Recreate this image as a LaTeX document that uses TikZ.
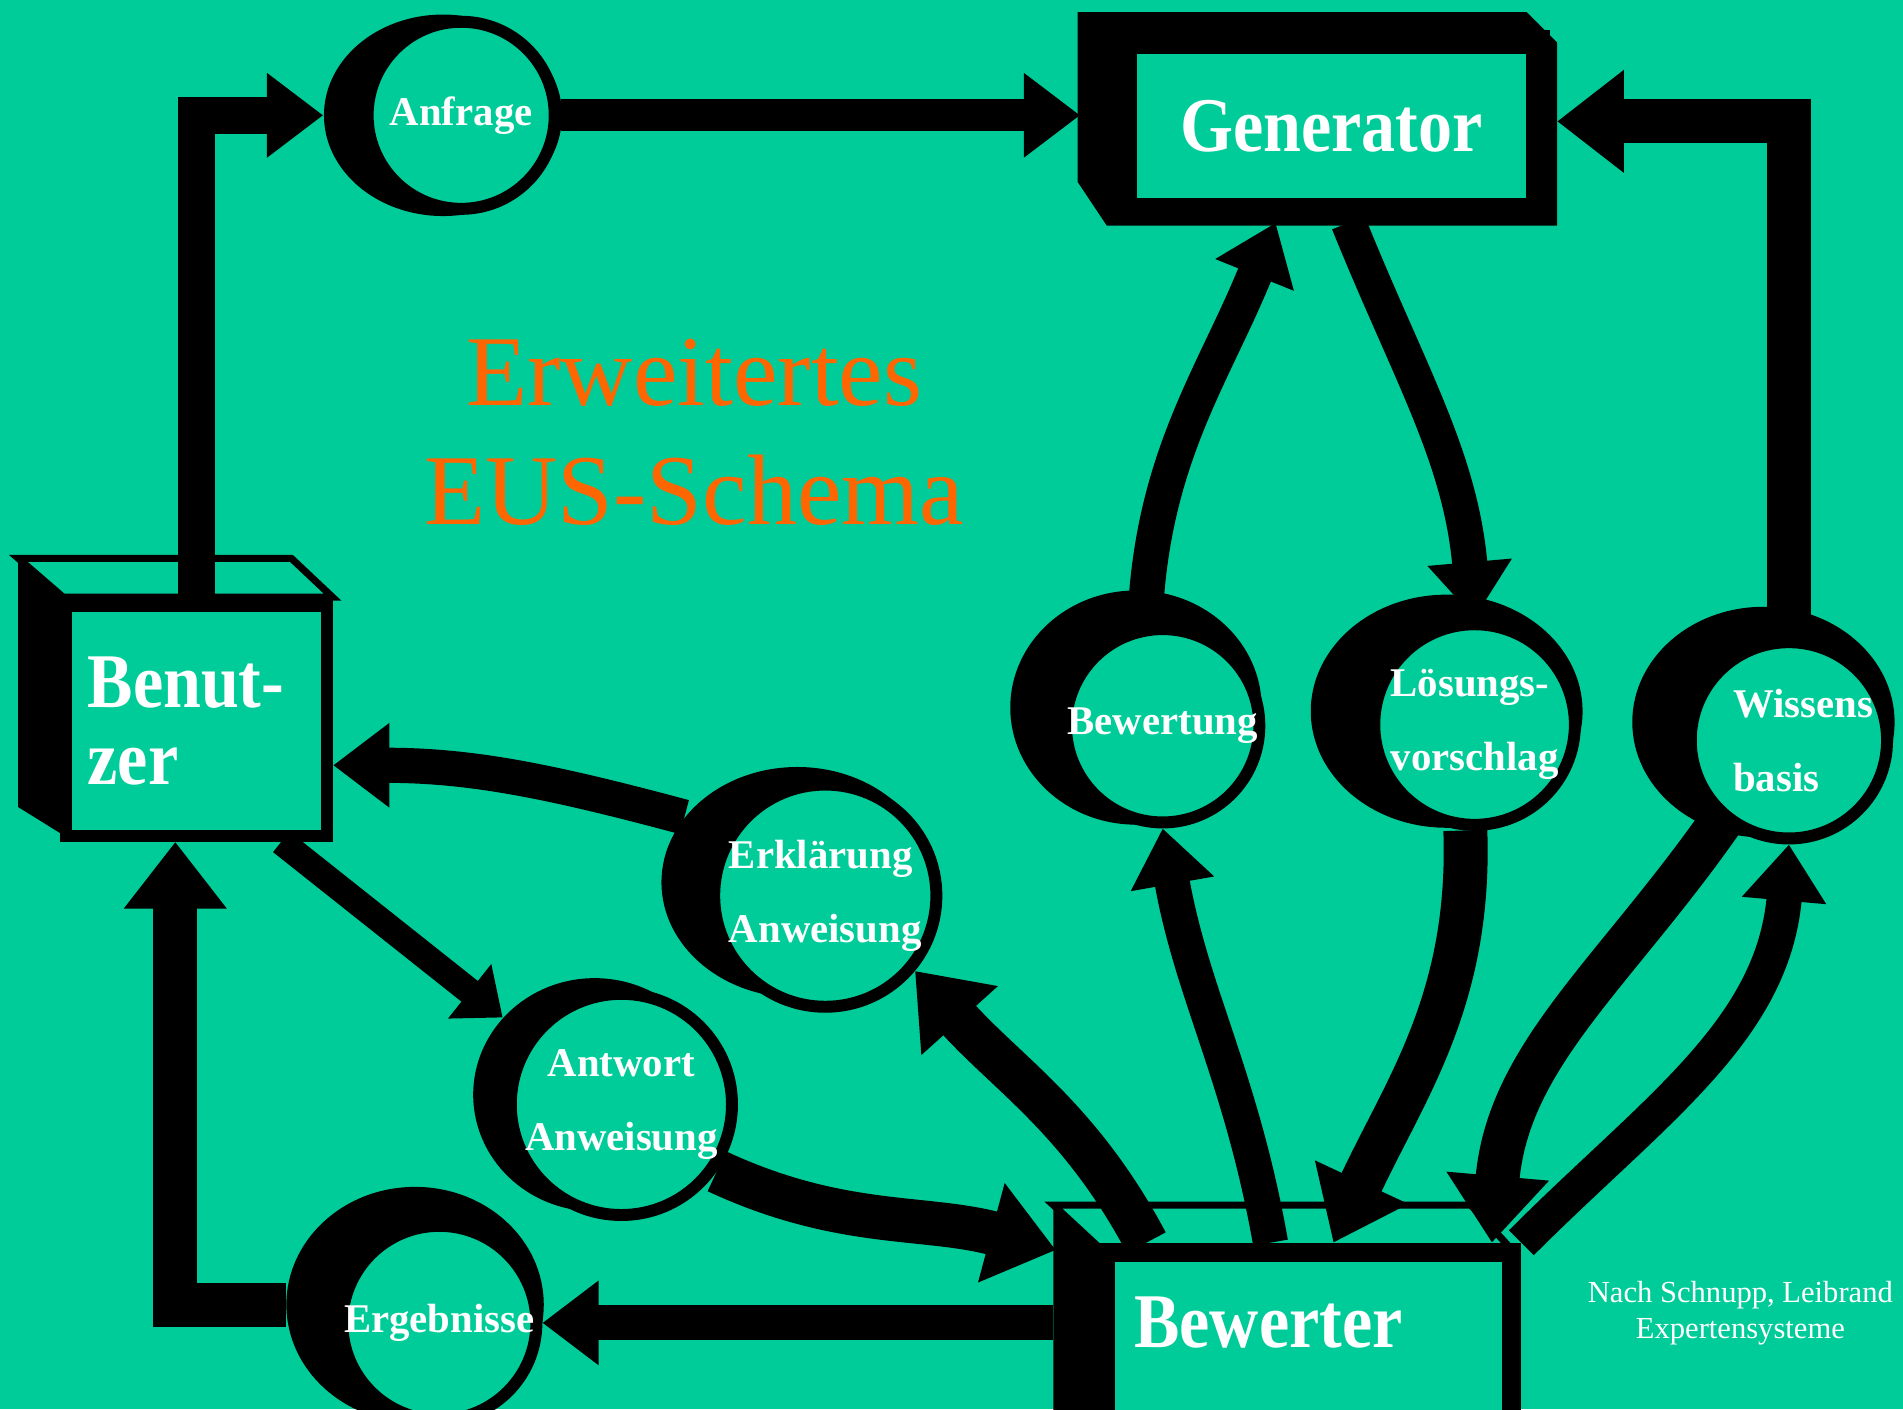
\documentclass[tikz,border=0pt]{standalone}
\usepackage{fontspec}
\setmainfont{Liberation Serif}
\newfontfamily\boxface[FakeStretch=0.88]{Liberation Serif}
\usetikzlibrary{arrows.meta,shapes.geometric}
\definecolor{eusgreen}{RGB}{0,204,153}
\definecolor{eusorange}{RGB}{255,102,0}

\begin{document}
\begin{tikzpicture}[x=0.012137cm, y=0.012137cm,
    bubble/.style={circle, draw=black, fill=eusgreen, line width=3.4pt, inner sep=0pt,
        text=white, align=left, font=\fontsize{11.6}{21}\selectfont\bfseries},
    shell/.style={ellipse, fill=black, inner sep=0pt},
    box/.style={rectangle, draw=black, fill=eusgreen, text=white,
        font=\boxface\fontsize{22}{22}\selectfont\bfseries},
    flow/.style={draw=black, line width=10pt, -{Triangle[length=16pt,width=23pt]}},
    heavy/.style={flow, line width=12.5pt, -{Triangle[length=19pt,width=28pt]}}]

    \useasboundingbox (0,0) rectangle (1568,-1161);
    \fill[eusgreen] (0,0) rectangle (1568,-1161);

    \node[text=eusorange, font=\fontsize{28.5}{33.8}\selectfont, align=center] (title) at (572,-356) {Erweitertes\\EUS-Schema};

    % boxes
    \fill (888,-10) -- (1258,-10) -- (1283,-35) -- (1283,-186) -- (912,-186) -- (888,-150) -- cycle;
    \node[box, line width=6.9pt, minimum width=117.4pt, minimum height=48pt] (generator) at (1097,-104) {Generator};

    \filldraw[fill=eusgreen, line width=2pt] (15,-460) -- (240,-460) -- (274,-492) -- (52,-492) -- cycle;
    \fill (15,-460) -- (52,-492) -- (52,-688) -- (15,-665) -- cycle;
    \node[box, line width=3.45pt, minimum width=74.2pt, minimum height=65.3pt,
        text width=62pt, inner xsep=6.1pt, align=left] (benutzer) at (162,-594) {Benut-\\zer};

    \filldraw[fill=eusgreen, line width=2pt] (868,-993) -- (1212,-993) -- (1246,-1030) -- (908,-1030) -- cycle;
    \fill (868,-993) -- (908,-1030) -- (908,-1170) -- (868,-1170) -- cycle;
    \node[box, line width=5.5pt, minimum width=115.7pt, minimum height=47.7pt,
        text width=99pt, inner xsep=8.35pt, align=left, text depth=8pt] (bewerter) at (1078,-1101) {Bewerter};

    \coordinate (generator-in) at (890,-95);
    \coordinate (generator-back) at (1283,-100);
    \coordinate (bewerter-in) at (870,-1030);
    \coordinate (bewerter-out) at (868,-1090);

    % bubbles
    \node[shell, minimum width=67.7pt, minimum height=57.3pt] (anfrage-s) at (365,-95) {};
    \node[bubble, minimum size=53.2pt] (anfrage) at (380,-95) {Anfrage};

    \node[shell, minimum width=71.5pt, minimum height=66.6pt] (bewertung-s) at (936,-583) {};
    \node[bubble, minimum size=53.2pt] (bewertung) at (958,-598) {Bewertung};

    \node[shell, minimum width=77.3pt, minimum height=66.3pt] (loesung-s) at (1192,-586) {};
    \node[bubble, minimum size=55.2pt] (loesung) at (1215,-597) {Lösungs-\\vorschlag};

    \node[shell, minimum width=74.6pt, minimum height=65.6pt] (wissens-s) at (1453,-595) {};
    \node[bubble, minimum size=53.2pt] (wissens) at (1474,-610) {\hspace*{8pt}Wissens\\\hspace*{8pt}basis};

    \node[shell, minimum width=77.3pt, minimum height=65.6pt] (erklaerung-s) at (657,-727) {};
    \node[bubble, minimum size=55.9pt] (erklaerung) at (680,-738) {Erklärung\\Anweisung};

    \node[shell, minimum width=69.1pt, minimum height=66.3pt] (antwort-s) at (490,-902) {};
    \node[bubble, minimum size=53.2pt, align=center] (antwort) at (512,-910) {Antwort\\Anweisung};

    \node[shell, minimum width=73.2pt, minimum height=67pt] (ergebnisse-s) at (342,-1075) {};
    \node[bubble, minimum size=55.2pt] (ergebnisse) at (362,-1090) {Ergebnisse};

    % flows
    \draw[flow, line width=10.5pt] (benutzer.north) |- (anfrage-s.west);
    \draw[flow, line width=9pt] (anfrage.east) -- (generator-in);
    \draw[heavy] (wissens.north) |- (generator-back);
    \draw[flow] (bewertung.100) to[out=88, in=-112] (generator.-120);
    \draw[flow] (generator.-80) to[out=-68, in=95] (loesung.north);
    \draw[flow] (bewerter.112) to[out=100, in=-80] (bewertung.south);
    \draw[heavy] (loesung.-95) to[out=-88, in=65] (bewerter.75);
    \draw[heavy] (wissens.-130) to[out=-125, in=85] (bewerter.27);
    \draw[flow] (bewerter.north east) to[out=45, in=-95] (wissens.south);
    \draw[heavy] (bewerter.150) to[out=118, in=-48] (erklaerung.-40);
    \draw[flow] (erklaerung-s.150) to[out=165, in=0] (benutzer.-18);
    \draw[flow, line width=7.5pt, -{Triangle[length=12pt,width=19pt]}] (benutzer.-55) -- (antwort-s.140);
    \draw[heavy] (antwort.-35) to[out=-25, in=165] (bewerter-in);
    \draw[flow] (bewerter-out) -- (ergebnisse.east);
    \draw[heavy] (ergebnisse-s.west) -| (benutzer.-100);

    \node[text=white, font=\fontsize{8.7}{10.4}\selectfont, align=center] (quelle) at (1434,-1082) {Nach Schnupp, Leibrand\\Expertensysteme};
\end{tikzpicture}
\end{document}
